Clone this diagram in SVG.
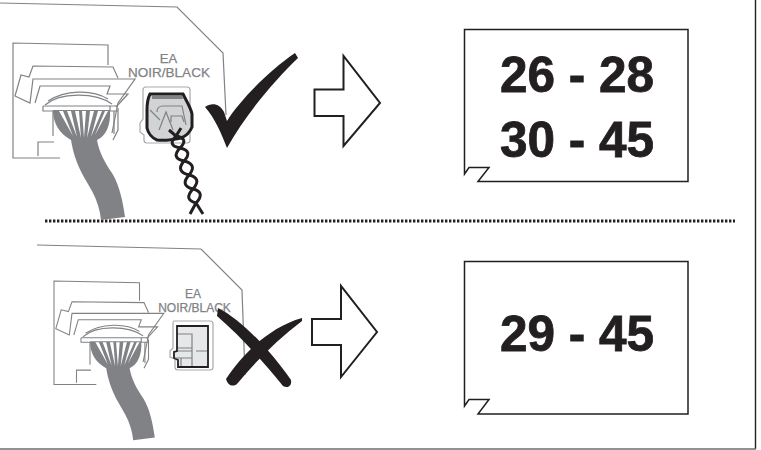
<svg xmlns="http://www.w3.org/2000/svg" width="761" height="450" viewBox="0 0 761 450">
<style>
.g{fill:none;stroke:#808285;stroke-width:1.2}
.k{fill:#fff;stroke:#231f20;stroke-width:1.5}
.n{font-family:"Liberation Sans",Arial,sans-serif;font-weight:700;font-size:49.5px;fill:#231f20;stroke:#231f20;stroke-width:0.8;text-anchor:middle}
.l{font-family:"Liberation Sans",Arial,sans-serif;fill:#808285;stroke:#808285;stroke-width:0.25;text-anchor:middle}
.ar{fill:#fff;stroke:#231f20;stroke-width:2}
.bl{fill:#231f20}
.tw{fill:none;stroke:#231f20;stroke-width:3}
</style>
<defs>
<g id="conn">
<path class="g" d="M60,158 H13 V43 L108,45 V65"/>
<path class="g" d="M118,78 L113,67 L33,66 L29,77 L21,75 L15,96 L30,103 L33,79 H135 L118,103 L112,133"/>
<path class="g" d="M35,103 L40,86 H110 L107,94 H128 L116,107"/>
<path class="g" d="M45,105 C60,92 95,92 112,104"/>
<path class="g" d="M48,101 C65,90 92,89 108,99"/>
<path class="g" d="M43,106 H118 M43,106 V111 H53 M110,106 V111 H118 M53,111 V136 M114,111 V134 M118,108 V130 L113,140"/>
<path class="g" d="M38,156 V142 H54"/>
<path fill="#808285" d="M53,110 H110 C111,125 106,136 97,140 C99,152 105,163 112,173 C120,186 123,203 125,217 L101,220 C100,210 97,200 92,191 C85,178 75,165 71,140 C60,134 53,124 53,110Z"/>
<path fill="#fff" d="M59,111 H63 L73,136 Z M67,111 H71 L77,137 Z M75,111 H79 L81,138 Z M82,111 H86 L84,138 Z M90,111 H94 L87,138 Z M98,111 H102 L91,137 Z M105,111 H108 L95,135 Z"/>
</g>
</defs>

<g id="connectors">
<path class="g" d="M0,3 L177,7 L223,53 L226,115"/>
<path class="g" d="M37,245 L201,249 L242,290 L245,375"/>
<path fill="none" stroke="#231f20" stroke-width="3" stroke-dasharray="2.4 1.6" d="M45,221 H735"/>
</g>

<g id="frame">
<path fill="none" stroke="#231f20" stroke-width="1.4" d="M755.5,0 V449"/>
<path fill="none" stroke="#6d6e71" stroke-width="1.4" d="M0,449 H756"/>
</g>

<g id="top-connector"><use href="#conn"/></g>

<g id="top-label">
<text class="l" x="168.500" y="63" font-size="13">EA</text>
<text class="l" x="169" y="77" font-size="13.500">NOIR/BLACK</text>
</g>

<g id="top-plug">
<path fill="#fff" stroke="#a7a9ac" stroke-width="1.200" d="M146,87 H187 Q190,87 190,90 V140 Q190,143 187,143 H147 Q144,143 144,140 V135 L140,132 V123 L143,119 V90 Q143,87 146,87Z"/>
<path fill="#d1d3d4" stroke="#231f20" stroke-width="3" d="M150,94 H183 C187,102 191,108 192,114 V127 C190,132 186,136 181,138 C172,140 164,141 157,140 C152,138 148,133 147,128 V110 C147,104 148,98 150,94Z"/>
<path fill="#808285" d="M152,96 H182 L183,99 H152Z"/>
<path class="g" d="M157,112 C157,107 160,106 163,106 H182 L186,125 M159,130 L166,112 L173,130 M171,122 V116 H182 L184,122 M150,110 L160,120"/>
<path class="tw" d="M169,130 L176,136 Q189.400,138.400 180,148 Q170.600,158.100 184,161 Q197.900,164.400 189,175 Q179.600,185.600 193,189 Q205.900,192.400 196,203 L203,214"/>
<path class="tw" d="M181,128 L176,136 Q166.600,145.600 180,148 Q193.400,150.900 184,161 Q175.100,171.600 189,175 Q202.400,178.400 193,189 Q183.100,199.600 196,203 L190,214"/>
</g>

<g id="check"><path class="bl" d="M205,107 C212,102 220,104 224,112 L227,121 C240,100 270,70 295,53 L298,58 C275,80 245,115 227,148 C222,135 215,118 205,107Z"/></g>

<g id="top-arrow"><path class="ar" d="M314.500,89.500 H343.500 V56 L380,103 L343.500,146 V116 H314.500Z"/></g>

<g id="top-box">
<path class="k" d="M464.500,174 V29.500 H688 V181.500 H478 L489,167.500 H469 L464.500,174Z"/>
<text class="n" x="577" y="92">26 - 28</text>
<text class="n" x="577" y="157">30 - 45</text>
</g>

<g id="bottom-connector"><use href="#conn" transform="translate(42.300,242.300) scale(0.9)"/></g>

<g id="bottom-label">
<text class="l" x="193" y="298" font-size="12">EA</text>
<text class="l" x="194.500" y="312" font-size="12">NOIR/BLACK</text>
</g>

<g id="bottom-plug">
<path fill="#fff" stroke="#a7a9ac" stroke-width="1.200" d="M174,321 H210 Q213,321 213,324 V367 Q213,370 210,370 H178 Q175,370 175,367 V359 L170,357 V351 L173,348 V324 Q173,321 174,321Z"/>
<path fill="#e6e7e8" stroke="#231f20" stroke-width="1.800" d="M177,326 H208 V367 H178 V360 L174,358 V352 L177,351Z"/>
<path class="g" d="M178,334 H192 V366 M178,348 H192 M178,351 H192 M196,351 H207 M175,358 H192 M181,358 V366"/>
</g>

<g id="cross">
<path class="bl" d="M218,308 C242,320 270,350 291,380 C292,387 287,388 283,386 C262,360 240,336 217,316Z"/>
<path class="bl" d="M302,318 C270,327 243,353 226,379 C228,386 233,387 237,384 C255,362 277,340 302,321Z"/>
</g>

<g id="bottom-arrow"><path class="ar" d="M312,319 H341 V286 L377,332 L341,377 V345 H312Z"/></g>

<g id="bottom-box">
<path class="k" d="M464.500,406 V261.500 H688 V414 H478 L489,399.500 H469 L464.500,406Z"/>
<text class="n" x="577" y="351">29 - 45</text>
</g>
</svg>
